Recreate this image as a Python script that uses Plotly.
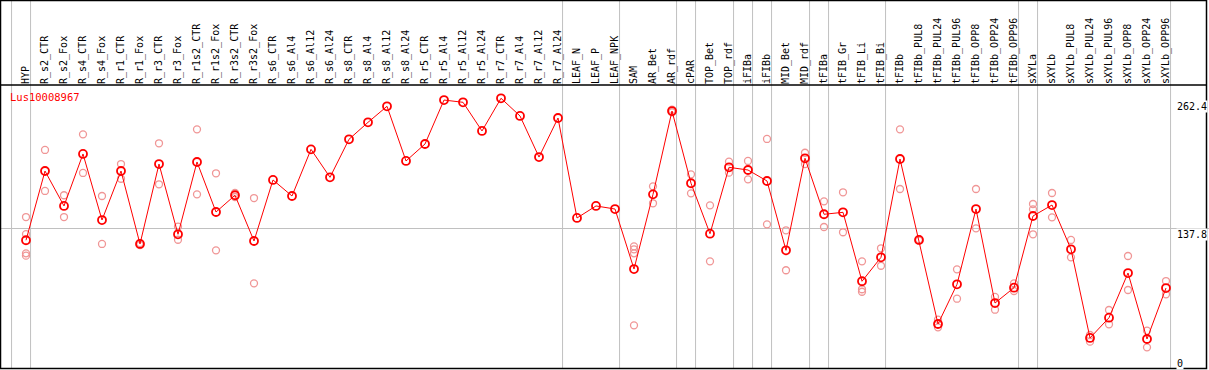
import plotly.graph_objects as go

categories = ["HYP", "R_s2_CTR", "R_s2_Fox", "R_s4_CTR", "R_s4_Fox", "R_r1_CTR", "R_r1_Fox",
              "R_r3_CTR", "R_r3_Fox", "R_r1s2_CTR", "R_r1s2_Fox", "R_r3s2_CTR", "R_r3s2_Fox",
              "R_s6_CTR", "R_s6_Al4", "R_s6_Al12", "R_s6_Al24", "R_s8_CTR", "R_s8_Al4", "R_s8_Al12",
              "R_s8_Al24", "R_r5_CTR", "R_r5_Al4", "R_r5_Al12", "R_r5_Al24", "R_r7_CTR", "R_r7_Al4",
              "R_r7_Al12", "R_r7_Al24", "LEAF_N", "LEAF_P", "LEAF_NPK", "SAM", "AR_Bet", "AR_rdf",
              "cPAR", "TOP_Bet", "TOP_rdf", "iFIBa", "iFIBb", "MID_Bet", "MID_rdf", "tFIBa",
              "tFIB_Gr", "tFIB_Li", "tFIB_Bi", "tFIBb", "tFIBb_PUL8", "tFIBb_PUL24", "tFIBb_PUL96",
              "tFIBb_OPP8", "tFIBb_OPP24", "tFIBb_OPP96", "sXYLa", "sXYLb", "sXYLb_PUL8",
              "sXYLb_PUL24", "sXYLb_PUL96", "sXYLb_OPP8", "sXYLb_OPP24", "sXYLb_OPP96"]

means = [125.9, 193.3, 159.3, 209.9, 145.6, 193.3, 122.3, 200.1, 131.7, 202.1, 153.4, 169.7, 125.2,
         184.6, 169.0, 214.4, 187.2, 224.2, 240.7, 256.3, 203.1, 219.6, 262.4, 260.2, 232.3, 264.1,
         246.9, 206.9, 244.9, 147.6, 159.3, 156.3, 97.9, 170.6, 251.7, 181.4, 132.3, 196.9, 194.3,
         183.6, 116.1, 205.7, 151.2, 153.1, 86.0, 109.3, 205.0, 126.2, 44.4, 83.0, 156.3, 64.8,
         79.7, 149.5, 160.2, 117.1, 30.8, 50.5, 94.0, 29.8, 79.4]

replicates = [
    [148.5, 131.9, 113.2, 110.9], [213.8, 173.9], [169.7, 148.5], [229.0, 191.4], [169.0, 122.3],
    [200.1, 185.8], [123.2, 121.3], [220.3, 180.4], [139.1, 126.4], [233.9, 170.6], [191.1, 116.1],
    [171.9, 168.0], [167.0, 84.0],
    [], [], [], [], [], [], [], [], [], [], [], [], [], [], [], [],
    [], [], [],
    [120.0, 117.1, 113.2, 43.1], [178.4, 161.9], [253.0, 250.5], [190.1, 171.6], [159.9, 105.4],
    [202.4, 191.7], [203.1, 185.2], [224.5, 141.4], [135.6, 96.7], [211.1, 200.1], [163.8, 138.8],
    [172.6, 133.7], [105.4, 78.2, 75.8], [118.1, 101.1], [233.9, 175.8], [127.0, 125.5],
    [48.6, 41.2], [97.6, 69.0], [175.8, 137.5], [70.7, 58.3], [84.0, 76.5],
    [161.2, 156.0, 131.7], [171.9, 148.2], [126.2, 109.3], [33.7, 27.2], [58.0, 44.1],
    [110.6, 77.5], [37.9, 21.7], [86.2, 73.3]]

group_ends = [-1, 0, 28, 31, 34, 35, 37, 38, 39, 41, 42, 45, 52, 53, 60]
y_ticks = [0, 137.8, 262.4]
title = "Lus10008967"

W, H = 1209, 370
TOP = 85
FONT = "DejaVu Sans Mono"

xs = list(range(len(categories)))
rx, ry = [], []
for i, vals in enumerate(replicates):
    for v in vals:
        rx.append(i)
        ry.append(v)

fig = go.Figure()
fig.add_trace(go.Scatter(x=rx, y=ry, mode="markers",
                         marker=dict(symbol="circle-open", size=7, color="rgb(240,150,150)",
                                     line=dict(width=1.3, color="rgb(240,150,150)")),
                         hoverinfo="skip", showlegend=False))
fig.add_trace(go.Scatter(x=xs, y=means, mode="lines+markers",
                         line=dict(color="#ff0000", width=1),
                         marker=dict(symbol="circle-open", size=8, color="#ff0000",
                                     line=dict(width=1.8, color="#ff0000")),
                         showlegend=False))

def py(p):
    return (H - p) / (H - TOP)

shapes = []
for g in group_ends:
    shapes.append(dict(type="line", xref="x", yref="paper", x0=g + 0.24, x1=g + 0.24,
                       y0=py(368.5), y1=py(0.5), line=dict(color="#c0c0c0", width=1), layer="below"))
# frame
shapes.append(dict(type="rect", xref="paper", yref="paper", x0=0.5 / W, x1=1206.5 / W,
                   y0=py(368.5), y1=py(0.5), line=dict(color="black", width=1.5)))
shapes.append(dict(type="line", xref="paper", yref="paper", x0=0, x1=1206.5 / W,
                   y0=1, y1=1, line=dict(color="black", width=1.5)))

annotations = [dict(text=title, xref="paper", yref="paper", x=8 / W, y=py(97), xanchor="left",
                    yanchor="middle", showarrow=False, font=dict(family=FONT, size=10.5, color="#ff0000"))]
for t in y_ticks:
    annotations.append(dict(text=str(t), xref="paper", yref="y", x=1176 / W, y=t,
                            xanchor="left", yanchor="bottom" if t == 0 else "top",
                            showarrow=False, bgcolor="white", borderpad=0,
                            font=dict(family=FONT, size=10, color="black")))

s = 1.0273
y1 = (369.6 - TOP) / s
y0 = y1 - (H - TOP) / s
x0 = -26 / 19
x1 = x0 + W / 19

fig.update_layout(
    width=W, height=H, margin=dict(l=0, r=0, t=TOP, b=0),
    plot_bgcolor="white", paper_bgcolor="white",
    shapes=shapes, annotations=annotations,
    xaxis=dict(range=[x0, x1], side="top", tickmode="array", tickvals=xs, ticktext=categories,
               tickangle=-90, ticks="", showgrid=False, zeroline=False, showline=False,
               tickfont=dict(family=FONT, size=10, color="black")),
    yaxis=dict(range=[y0, y1], tickmode="array", tickvals=[137.8], showticklabels=False,
               showgrid=True, gridcolor="#c0c0c0", gridwidth=1, zeroline=False, showline=False),
)

fig.write_html("out.html", config={"displayModeBar": False},
               post_script="document.body.style.margin='0';document.body.style.overflow='hidden';")
